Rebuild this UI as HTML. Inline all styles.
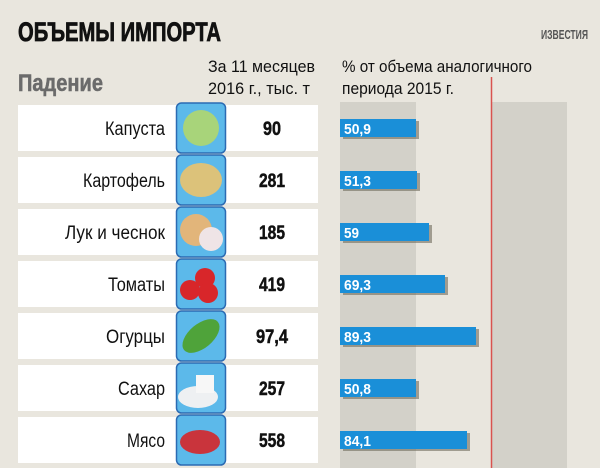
<!DOCTYPE html>
<html><head><meta charset="utf-8"><style>
html,body{margin:0;padding:0;background:#e9e6de;}
svg{display:block;font-family:"Liberation Sans",sans-serif;}
</style></head><body>
<svg width="600" height="468" viewBox="0 0 600 468" xmlns="http://www.w3.org/2000/svg">
<rect width="600" height="468" fill="#e9e6de"/>
<rect x="340" y="102" width="76" height="366" fill="#d3d1c9"/>
<rect x="492" y="102" width="75" height="366" fill="#d3d1c9"/>
<line x1="491.5" y1="77" x2="491.5" y2="468" stroke="#d9534f" stroke-width="1.5"/>
<text x="18" y="41" font-size="27" font-weight="bold" fill="#111" stroke="#111" stroke-width="0.8" textLength="203" lengthAdjust="spacingAndGlyphs">ОБЪЕМЫ ИМПОРТА</text>
<text x="541" y="39" font-size="13" font-weight="bold" fill="#555" textLength="47" lengthAdjust="spacingAndGlyphs">ИЗВЕСТИЯ</text>
<text x="18" y="91" font-size="24" font-weight="bold" fill="#6b6b6b" stroke="#6b6b6b" stroke-width="0.5" textLength="85" lengthAdjust="spacingAndGlyphs">Падение</text>
<text x="208" y="72" font-size="17" fill="#111" textLength="107" lengthAdjust="spacingAndGlyphs">За 11 месяцев</text>
<text x="208" y="94" font-size="17" fill="#111" textLength="102" lengthAdjust="spacingAndGlyphs">2016 г., тыс. т</text>
<text x="342" y="72" font-size="17" fill="#111" textLength="190" lengthAdjust="spacingAndGlyphs">% от объема аналогичного</text>
<text x="342" y="94" font-size="17" fill="#111" textLength="112" lengthAdjust="spacingAndGlyphs">периода 2015 г.</text>
<g font-size="19">
<g transform="translate(0,105)">
<rect x="18" y="0" width="300" height="46" fill="#fff"/>
<rect x="176.5" y="-2" width="49" height="50" rx="5" fill="#5cb9ea" stroke="#2b6bb3" stroke-width="1.5"/>
<circle cx="201" cy="23" r="18" fill="#a8d47a"/>
<text x="165" y="30" text-anchor="end" fill="#111" textLength="60" lengthAdjust="spacingAndGlyphs">Капуста</text>
<text x="272" y="30" text-anchor="middle" font-weight="bold" fill="#111" stroke="#111" stroke-width="0.5" textLength="18" lengthAdjust="spacingAndGlyphs">90</text>
<rect x="343" y="16" width="76" height="18" fill="#6f6a5c" opacity="0.6"/>
<rect x="340" y="14" width="76" height="18" fill="#1a8fd8"/>
<text x="344" y="29" font-size="15" font-weight="bold" fill="#fff" textLength="27" lengthAdjust="spacingAndGlyphs">50,9</text>
</g>
<g transform="translate(0,157)">
<rect x="18" y="0" width="300" height="46" fill="#fff"/>
<rect x="176.5" y="-2" width="49" height="50" rx="5" fill="#5cb9ea" stroke="#2b6bb3" stroke-width="1.5"/>
<ellipse cx="201" cy="23" rx="21" ry="17" fill="#dcc27a"/>
<text x="165" y="30" text-anchor="end" fill="#111" textLength="82" lengthAdjust="spacingAndGlyphs">Картофель</text>
<text x="272" y="30" text-anchor="middle" font-weight="bold" fill="#111" stroke="#111" stroke-width="0.5" textLength="26" lengthAdjust="spacingAndGlyphs">281</text>
<rect x="343" y="16" width="77" height="18" fill="#6f6a5c" opacity="0.6"/>
<rect x="340" y="14" width="77" height="18" fill="#1a8fd8"/>
<text x="344" y="29" font-size="15" font-weight="bold" fill="#fff" textLength="27" lengthAdjust="spacingAndGlyphs">51,3</text>
</g>
<g transform="translate(0,209)">
<rect x="18" y="0" width="300" height="46" fill="#fff"/>
<rect x="176.5" y="-2" width="49" height="50" rx="5" fill="#5cb9ea" stroke="#2b6bb3" stroke-width="1.5"/>
<circle cx="196" cy="21" r="16" fill="#e2b57a"/><circle cx="211" cy="30" r="12" fill="#efe4e6"/>
<text x="165" y="30" text-anchor="end" fill="#111" textLength="100" lengthAdjust="spacingAndGlyphs">Лук и чеснок</text>
<text x="272" y="30" text-anchor="middle" font-weight="bold" fill="#111" stroke="#111" stroke-width="0.5" textLength="26" lengthAdjust="spacingAndGlyphs">185</text>
<rect x="343" y="16" width="89" height="18" fill="#6f6a5c" opacity="0.6"/>
<rect x="340" y="14" width="89" height="18" fill="#1a8fd8"/>
<text x="344" y="29" font-size="15" font-weight="bold" fill="#fff" textLength="15" lengthAdjust="spacingAndGlyphs">59</text>
</g>
<g transform="translate(0,261)">
<rect x="18" y="0" width="300" height="46" fill="#fff"/>
<rect x="176.5" y="-2" width="49" height="50" rx="5" fill="#5cb9ea" stroke="#2b6bb3" stroke-width="1.5"/>
<circle cx="205" cy="17" r="10" fill="#d8262a"/><circle cx="190" cy="29" r="10" fill="#d8262a"/><circle cx="208" cy="32" r="10" fill="#d8262a"/>
<text x="165" y="30" text-anchor="end" fill="#111" textLength="57" lengthAdjust="spacingAndGlyphs">Томаты</text>
<text x="272" y="30" text-anchor="middle" font-weight="bold" fill="#111" stroke="#111" stroke-width="0.5" textLength="26" lengthAdjust="spacingAndGlyphs">419</text>
<rect x="343" y="16" width="105" height="18" fill="#6f6a5c" opacity="0.6"/>
<rect x="340" y="14" width="105" height="18" fill="#1a8fd8"/>
<text x="344" y="29" font-size="15" font-weight="bold" fill="#fff" textLength="27" lengthAdjust="spacingAndGlyphs">69,3</text>
</g>
<g transform="translate(0,313)">
<rect x="18" y="0" width="300" height="46" fill="#fff"/>
<rect x="176.5" y="-2" width="49" height="50" rx="5" fill="#5cb9ea" stroke="#2b6bb3" stroke-width="1.5"/>
<ellipse cx="201" cy="23" rx="22" ry="12" fill="#4fa33a" transform="rotate(-40 201 23)"/>
<text x="165" y="30" text-anchor="end" fill="#111" textLength="59" lengthAdjust="spacingAndGlyphs">Огурцы</text>
<text x="272" y="30" text-anchor="middle" font-weight="bold" fill="#111" stroke="#111" stroke-width="0.5" textLength="32" lengthAdjust="spacingAndGlyphs">97,4</text>
<rect x="343" y="16" width="136" height="18" fill="#6f6a5c" opacity="0.6"/>
<rect x="340" y="14" width="136" height="18" fill="#1a8fd8"/>
<text x="344" y="29" font-size="15" font-weight="bold" fill="#fff" textLength="27" lengthAdjust="spacingAndGlyphs">89,3</text>
</g>
<g transform="translate(0,365)">
<rect x="18" y="0" width="300" height="46" fill="#fff"/>
<rect x="176.5" y="-2" width="49" height="50" rx="5" fill="#5cb9ea" stroke="#2b6bb3" stroke-width="1.5"/>
<ellipse cx="198" cy="32" rx="20" ry="11" fill="#eef0f2"/><rect x="196" y="10" width="18" height="18" fill="#f7f7f7"/>
<text x="165" y="30" text-anchor="end" fill="#111" textLength="47" lengthAdjust="spacingAndGlyphs">Сахар</text>
<text x="272" y="30" text-anchor="middle" font-weight="bold" fill="#111" stroke="#111" stroke-width="0.5" textLength="26" lengthAdjust="spacingAndGlyphs">257</text>
<rect x="343" y="16" width="76" height="18" fill="#6f6a5c" opacity="0.6"/>
<rect x="340" y="14" width="76" height="18" fill="#1a8fd8"/>
<text x="344" y="29" font-size="15" font-weight="bold" fill="#fff" textLength="27" lengthAdjust="spacingAndGlyphs">50,8</text>
</g>
<g transform="translate(0,417)">
<rect x="18" y="0" width="300" height="46" fill="#fff"/>
<rect x="176.5" y="-2" width="49" height="50" rx="5" fill="#5cb9ea" stroke="#2b6bb3" stroke-width="1.5"/>
<ellipse cx="200" cy="25" rx="20" ry="12" fill="#c9343c"/>
<text x="165" y="30" text-anchor="end" fill="#111" textLength="38" lengthAdjust="spacingAndGlyphs">Мясо</text>
<text x="272" y="30" text-anchor="middle" font-weight="bold" fill="#111" stroke="#111" stroke-width="0.5" textLength="26" lengthAdjust="spacingAndGlyphs">558</text>
<rect x="343" y="16" width="127" height="18" fill="#6f6a5c" opacity="0.6"/>
<rect x="340" y="14" width="127" height="18" fill="#1a8fd8"/>
<text x="344" y="29" font-size="15" font-weight="bold" fill="#fff" textLength="27" lengthAdjust="spacingAndGlyphs">84,1</text>
</g>
</g>
</svg>
</body></html>
